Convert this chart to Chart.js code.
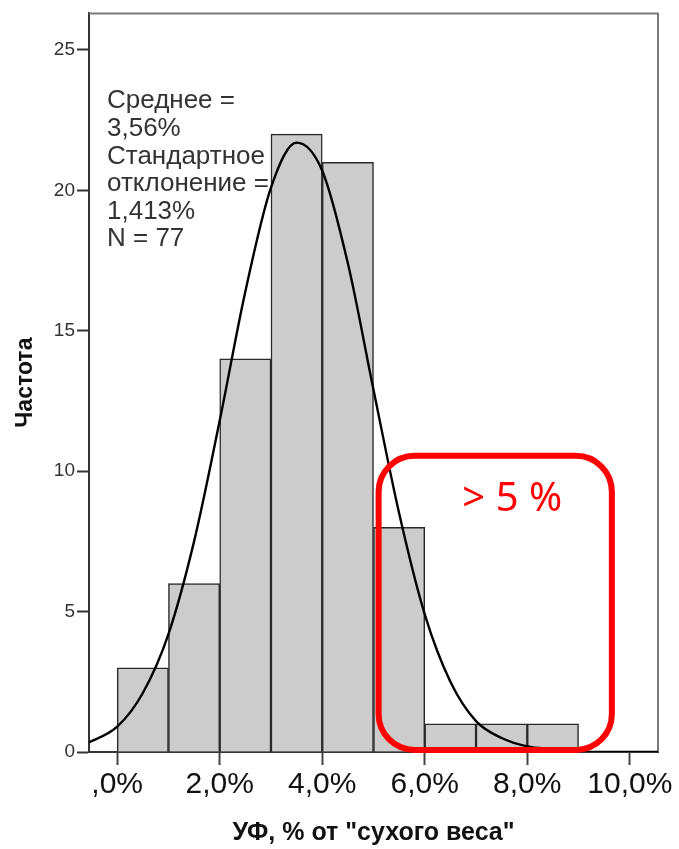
<!DOCTYPE html>
<html>
<head>
<meta charset="utf-8">
<script src="https://cdn.jsdelivr.net/npm/chart.js@4"></script>
<style>
  html, body { margin: 0; padding: 0; background: #fff; }
  #wrap { width: 679px; height: 849px; }
</style>
</head>
<body>
<div id="wrap"><canvas id="histChart" width="679" height="849"></canvas></div>
<script>
// histogram bins (UF, % of dry weight), 1% wide
var binCenters = [0.5, 1.5, 2.5, 3.5, 4.5, 5.5, 6.5, 7.5, 8.5];
var binCounts = [3, 6, 14, 22, 21, 8, 1, 1, 1];

// fitted normal curve, read along the x axis
var curveX = [-0.6, 0, 0.5, 1, 1.5, 2, 2.5, 3, 3.5, 4, 4.5, 5, 5.5, 6, 6.5, 7, 7.5, 8, 8.5, 9, 9.5, 10, 10.6];
var curveY = [0.3, 0.9, 2.1, 4.2, 7.5, 11.8, 16.4, 20.1, 21.7, 20.7, 17.4, 12.9, 8.5, 4.9, 2.5, 1.1, 0.5, 0.2, 0.1, 0, 0, 0, 0];

var xTickValues = [0, 2, 4, 6, 8, 10];
var xTickLabels = [',0%', '2,0%', '4,0%', '6,0%', '8,0%', '10,0%'];
var yTickValues = [0, 5, 10, 15, 20, 25];

var statLines = ['Среднее =', '3,56%', 'Стандартное', 'отклонение =', '1,413%', 'N = 77'];
var highlightLabel = '> 5 %';

var overlay = {
    id: 'overlay',
    beforeDatasetsDraw: function(chart) {
        var ctx = chart.ctx, a = chart.chartArea;
        // grey frame on top and right
        ctx.save();
        ctx.strokeStyle = '#7a7a7a';
        ctx.lineWidth = 2;
        ctx.beginPath();
        ctx.moveTo(a.left, a.top);
        ctx.lineTo(a.right, a.top);
        ctx.lineTo(a.right, a.bottom);
        ctx.stroke();
        ctx.restore();
    },
    afterDatasetsDraw: function(chart) {
        var ctx = chart.ctx, a = chart.chartArea;
        var x = chart.scales.x, y = chart.scales.y;
        ctx.save();
        ctx.font = '26px "Liberation Sans", Arial, sans-serif';
        ctx.fillStyle = '#333';
        ctx.textAlign = 'left';
        ctx.textBaseline = 'alphabetic';
        for (var i = 0; i < statLines.length; i++) {
            ctx.fillText(statLines[i], a.left + 18, a.top + 95 + i * 27.6);
        }

        // red rounded box round the > 5% tail
        var l = x.getPixelForValue(5.1), r = x.getPixelForValue(9.65);
        var t = y.getPixelForValue(10.55), b = y.getPixelForValue(0.07);
        var rad = 36;
        ctx.strokeStyle = '#ff0000';
        ctx.lineWidth = 6;
        ctx.beginPath();
        ctx.moveTo(l + rad, t);
        ctx.arcTo(r, t, r, b, rad);
        ctx.arcTo(r, b, l, b, rad);
        ctx.arcTo(l, b, l, t, rad);
        ctx.arcTo(l, t, r, t, rad);
        ctx.closePath();
        ctx.stroke();

        ctx.fillStyle = '#ff0000';
        ctx.font = '40px "Noto Sans", sans-serif';
        ctx.textAlign = 'center';
        ctx.fillText(highlightLabel, (l + r) / 2 + 17, t + 55);
        ctx.restore();
    }
};

var ctx_hist = document.getElementById('histChart');
var histChart = new Chart(ctx_hist, {
    type: 'bar',
    data: {
        datasets: [{
            type: 'line',
            data: curveX.map(function(v, i) { return {x: v, y: curveY[i]}; }),
            borderColor: '#000',
            borderWidth: 2.4,
            pointRadius: 0,
            fill: false,
            cubicInterpolationMode: 'monotone',
            order: 0
        }, {
            type: 'bar',
            data: binCenters.map(function(v, i) { return {x: v, y: binCounts[i]}; }),
            backgroundColor: '#cccccc',
            borderColor: '#2a2a2a',
            borderWidth: 1.5,
            barPercentage: 1,
            categoryPercentage: 1,
            order: 1
        }]
    },
    options: {
        responsive: false,
        animation: false,
        layout: {
            padding: {top: 10, right: 21, left: 0, bottom: 0}
        },
        plugins: {
            legend: { display: false },
            tooltip: { enabled: false }
        },
        scales: {
            x: {
                type: 'linear',
                min: -0.55,
                max: 10.55,
                offset: false,
                afterBuildTicks: function(scale) {
                    scale.ticks = xTickValues.map(function(v) { return {value: v}; });
                },
                afterFit: function(scale) { scale.height = 97; },
                ticks: {
                    autoSkip: false,
                    maxRotation: 0,
                    padding: 2,
                    color: '#111',
                    font: { family: '"Liberation Sans", Arial, sans-serif', size: 30 },
                    callback: function(value, index) { return xTickLabels[index]; }
                },
                grid: {
                    offset: false,
                    drawOnChartArea: false,
                    drawTicks: true,
                    tickLength: 13,
                    tickWidth: 2,
                    color: '#444'
                },
                border: { display: true, color: '#333', width: 2 },
                title: {
                    display: true,
                    text: 'УФ, % от "сухого веса"',
                    color: '#111',
                    font: { family: '"Liberation Sans", Arial, sans-serif', size: 25, weight: 'bold' },
                    padding: { top: 0, bottom: 1 }
                }
            },
            y: {
                min: 0,
                max: 26.3,
                afterBuildTicks: function(scale) {
                    scale.ticks = yTickValues.map(function(v) { return {value: v}; });
                },
                afterFit: function(scale) { scale.width = 89; },
                ticks: {
                    padding: 2,
                    color: '#333',
                    font: { family: '"Liberation Sans", Arial, sans-serif', size: 19 },
                    callback: function(value) { return String(value); }
                },
                grid: {
                    drawOnChartArea: false,
                    drawTicks: true,
                    tickLength: 12,
                    tickWidth: 2,
                    color: '#333'
                },
                border: { display: true, color: '#333', width: 2 },
                title: {
                    display: true,
                    text: 'Частота',
                    color: '#111',
                    font: { family: '"Liberation Sans", Arial, sans-serif', size: 23, weight: 'bold' },
                    padding: { top: 12, bottom: 0 }
                }
            }
        }
    },
    plugins: [overlay]
});
</script>
</body>
</html>
